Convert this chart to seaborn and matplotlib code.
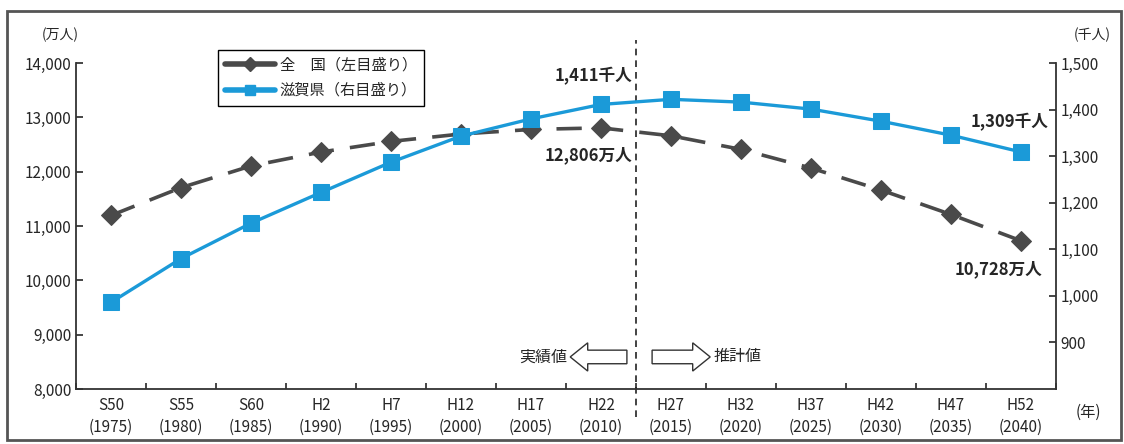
import numpy as np
import pandas as pd
import matplotlib

matplotlib.use("Agg")

import matplotlib.pyplot as plt
import matplotlib.patches as mpatches
from matplotlib.lines import Line2D
import seaborn as sns

sns.set_style("ticks")
plt.rcParams["font.family"] = ["Noto Sans CJK JP", "DejaVu Sans"]

# =========================
# data
# =========================
era_labels = ["S50", "S55", "S60", "H2", "H7", "H12", "H17", "H22",
              "H27", "H32", "H37", "H42", "H47", "H52"]
years = ["1975", "1980", "1985", "1990", "1995", "2000", "2005", "2010",
         "2015", "2020", "2025", "2030", "2035", "2040"]
# 全国 (万人, left axis)
national = [11194, 11706, 12105, 12361, 12557, 12693, 12777, 12806,
            12660, 12410, 12066, 11662, 11212, 10728]
# 滋賀県 (千人, right axis)
shiga = [986, 1080, 1156, 1222, 1287, 1343, 1380, 1411,
         1422, 1416, 1401, 1375, 1345, 1309]

left_ticks = [8000, 9000, 10000, 11000, 12000, 13000, 14000]
right_ticks = [900, 1000, 1100, 1200, 1300, 1400, 1500]

df = pd.DataFrame({"year": years, "national": national, "shiga": shiga})

GRAY = "#4a4a4a"
BLUE = "#1b9ad8"

fig = plt.figure(figsize=(11.24, 4.44), dpi=100)
ax = fig.add_axes([76 / 1124, 1 - 389 / 444, (1056 - 76) / 1124, (389 - 63) / 444])
ax2 = ax.twinx()

sns.lineplot(data=df, x="year", y="national", ax=ax, color=GRAY, lw=2.6,
             marker="D", markersize=10, markeredgecolor=GRAY, dashes=False,
             sort=False)
ax.lines[0].set_dashes((7, 4.5))

sns.lineplot(data=df, x="year", y="shiga", ax=ax2, color=BLUE, lw=2.4,
             marker="s", markersize=11, markeredgecolor=BLUE, sort=False)

# axes ranges / ticks
ax.set_xlim(-0.5, 13.5)
ax.set_ylim(8000, 14000)
ax2.set_ylim(800, 1500)
ax.set_yticks(left_ticks)
ax.set_yticklabels([f"{v:,}" for v in left_ticks])
ax2.set_yticks(right_ticks)
ax2.set_yticklabels([f"{v:,}" for v in right_ticks])
ax.set_xticks(range(len(years)))
ax.set_xticklabels([f"{e}\n({y})" for e, y in zip(era_labels, years)],
                   fontsize=11, linespacing=1.35)
ax.set_xticks(np.arange(-0.5, 14, 1), minor=True)
ax.tick_params(axis="x", which="major", length=0, pad=6)
ax.tick_params(axis="x", which="minor", direction="in", length=4, width=1.2)
ax.tick_params(axis="y", direction="in", length=5, width=1.2, labelsize=11)
ax2.tick_params(axis="y", direction="in", length=5, width=1.2, labelsize=11)
for a in (ax, ax2):
    a.set_xlabel("")
    a.set_ylabel("")
    a.spines["top"].set_visible(False)
    for s in ("left", "right", "bottom"):
        a.spines[s].set_linewidth(1.3)
        a.spines[s].set_color("#333333")
ax.spines["right"].set_visible(False)
ax2.spines["left"].set_visible(False)
ax2.spines["bottom"].set_visible(False)

# divider between actual and projected
ax.axvline(7.5, ymin=-0.085, ymax=1.07, color="#222222", lw=1.2,
           ls=(0, (4, 3)), clip_on=False)

# unit labels
fig.text(60 / 1124, 1 - 35 / 444, "(万人)", fontsize=10, ha="center", va="center")
fig.text(1092 / 1124, 1 - 35 / 444, "(千人)", fontsize=10, ha="center", va="center")
fig.text(1088 / 1124, 1 - 412 / 444, "(年)", fontsize=11, ha="center", va="center")

# value annotations
ax2.text(7.45, 1472, "1,411千人", fontsize=12, fontweight="bold", ha="right", va="center")
ax.text(7.45, 12310, "12,806万人", fontsize=12, fontweight="bold", ha="right", va="center")
ax2.text(13.4, 1373, "1,309千人", fontsize=12, fontweight="bold", ha="right", va="center")
ax.text(13.3, 10200, "10,728万人", fontsize=12, fontweight="bold", ha="right", va="center")

# hollow arrows 実績値 / 推計値
ay = 8590
ax.add_patch(mpatches.FancyArrow(7.37, ay, -0.81, 0, width=250, head_width=520,
                                 head_length=0.25, length_includes_head=True,
                                 fc="white", ec="#333333", lw=1.0))
ax.add_patch(mpatches.FancyArrow(7.73, ay, 0.83, 0, width=250, head_width=520,
                                 head_length=0.25, length_includes_head=True,
                                 fc="white", ec="#333333", lw=1.0))
ax.text(6.51, ay, "実績値", fontsize=11.5, ha="right", va="center")
ax.text(8.61, ay, "推計値", fontsize=11.5, ha="left", va="center")

# legend
handles = [
    Line2D([], [], color=GRAY, lw=4, marker="D", markersize=7),
    Line2D([], [], color=BLUE, lw=4, marker="s", markersize=7),
]
fig.legend(handles, ["全　国（左目盛り）", "滋賀県（右目盛り）"],
           loc="upper left", bbox_to_anchor=(210 / 1124, 1 - 42 / 444),
           frameon=True, fancybox=False, edgecolor="black", fontsize=11,
           handlelength=3.3, handletextpad=0.3, borderpad=0.45,
           labelspacing=0.55, framealpha=1)

# outer frame
fig.patches.append(mpatches.Rectangle((7 / 1124, 4 / 444), 1114 / 1124, 429 / 444,
                                      transform=fig.transFigure, fill=False,
                                      ec="#555555", lw=2))

fig.savefig("out.png", dpi=100)
plt.close(fig)
